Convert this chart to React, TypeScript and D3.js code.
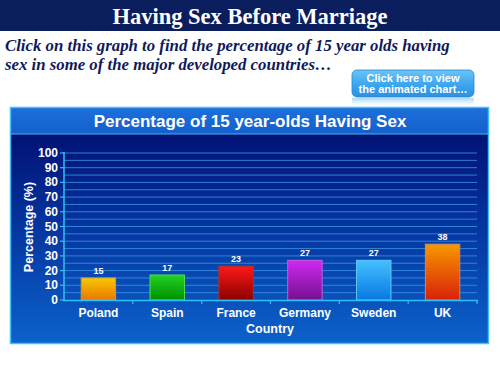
import React from "react";
import * as d3 from "d3";

const countries = ["Poland", "Spain", "France", "Germany", "Sweden", "UK"];
const values = [15, 17, 23, 27, 27, 38];
const barTop = ["#f8c800", "#22d022", "#ff1818", "#d028f0", "#44c0ff", "#f89800"];
const barBottom = ["#e87800", "#009000", "#8a0000", "#741090", "#0878e0", "#d82008"];
const barStroke = ["#c0a040", "#50e050", "#b03030", "#c060e0", "#60c8ff", "#c09060"];
const yTicks = [0, 10, 20, 30, 40, 50, 60, 70, 80, 90, 100];
const gridValues = d3.range(5, 101, 5);

export default function App() {
  const x = d3.scaleBand<string>().domain(countries).range([64, 477]).paddingInner(0.5).paddingOuter(0.25);
  const y = d3.scaleLinear().domain([0, 100]).range([300, 153]);
  const bandStep = x.step();
  const boundaries = countries.map((_, i) => 64 + bandStep * (i + 1));

  return (
    <div style={{ position: "absolute", left: 0, top: 0, width: 500, height: 375, background: "#fff" }}>
      <svg width={500} height={375} style={{ display: "block" }}>
        <defs>
          <linearGradient id="panelBg" x1="0" y1="0" x2="0" y2="1">
            <stop offset="0" stopColor="#000868" />
            <stop offset="0.45" stopColor="#04309a" />
            <stop offset="1" stopColor="#0c62cc" />
          </linearGradient>
          <linearGradient id="titleBg" x1="0" y1="0" x2="0" y2="1">
            <stop offset="0" stopColor="#1c70dc" />
            <stop offset="1" stopColor="#1460cc" />
          </linearGradient>
          <linearGradient id="btnBg" x1="0" y1="0" x2="0" y2="1">
            <stop offset="0" stopColor="#6cc4f8" />
            <stop offset="0.5" stopColor="#3ea8f0" />
            <stop offset="1" stopColor="#2c90e0" />
          </linearGradient>
          <linearGradient id="reflBg" x1="0" y1="0" x2="0" y2="1">
            <stop offset="0" stopColor="#8ccaf4" stopOpacity="0.75" />
            <stop offset="1" stopColor="#ffffff" stopOpacity="0" />
          </linearGradient>
          <clipPath id="reflClip">
            <rect x={352} y={98} width={122} height={9} />
          </clipPath>
          {countries.map((c, i) => (
            <linearGradient key={c} id={`bar${i}`} x1="0" y1="0" x2="0" y2="1">
              <stop offset="0" stopColor={barTop[i]} />
              <stop offset="1" stopColor={barBottom[i]} />
            </linearGradient>
          ))}
        </defs>

        {/* Header banner */}
        <rect x={0} y={0} width={500} height={31} fill="#0a1e5e" />
        <text x={250} y={24} textAnchor="middle" fill="#ffffff" fontFamily="Liberation Serif, serif" fontWeight="bold" fontSize={22.5}>
          Having Sex Before Marriage
        </text>

        {/* Subtitle */}
        <text x={5} y={51} fill="#101a5a" fontFamily="Liberation Serif, serif" fontWeight="bold" fontStyle="italic" fontSize={16.8}>
          Click on this graph to find the percentage of 15 year olds having
        </text>
        <text x={5} y={70} fill="#101a5a" fontFamily="Liberation Serif, serif" fontWeight="bold" fontStyle="italic" fontSize={16.8}>
          sex in some of the major developed countries…
        </text>

        {/* Button with reflection */}
        <rect x={352} y={98} width={122} height={10} fill="url(#reflBg)" />
        <g clipPath="url(#reflClip)" opacity={0.75}>
          <text
            x={413}
            y={93}
            textAnchor="middle"
            fill="#ffffff"
            fontFamily="Liberation Sans, Arial, sans-serif"
            fontWeight="bold"
            fontSize={11}
            transform="translate(0,196) scale(1,-1)"
          >
            the animated chart…
          </text>
        </g>
        <rect x={352} y={70} width={122} height={27} rx={5} fill="url(#btnBg)" stroke="#2a86d0" strokeWidth={0.8} />
        <text x={413} y={81.5} textAnchor="middle" fill="#ffffff" fontFamily="Liberation Sans, Arial, sans-serif" fontWeight="bold" fontSize={11}>
          Click here to view
        </text>
        <text x={413} y={93} textAnchor="middle" fill="#ffffff" fontFamily="Liberation Sans, Arial, sans-serif" fontWeight="bold" fontSize={11}>
          the animated chart…
        </text>

        {/* Panel */}
        <rect x={10} y={107} width={479} height={237} fill="url(#panelBg)" />
        <rect x={10} y={107} width={479} height={27} fill="url(#titleBg)" />
        <line x1={10} x2={489} y1={134} y2={134} stroke="#40b8f0" strokeWidth={1} />
        <rect x={10.5} y={107.5} width={478} height={236} fill="none" stroke="#40c0f8" strokeWidth={1.5} />
        <text x={250} y={127} textAnchor="middle" fill="#ffffff" fontFamily="Liberation Sans, Arial, sans-serif" fontWeight="bold" fontSize={17}>
          Percentage of 15 year-olds Having Sex
        </text>

        {/* Grid */}
        {gridValues.map((v) => (
          <line key={v} x1={64} x2={477} y1={y(v)} y2={y(v)} stroke="#3a90e4" strokeWidth={1} opacity={0.85} />
        ))}

        {/* Bars */}
        {countries.map((c, i) => (
          <g key={c}>
            <rect
              x={x(c)!}
              y={y(values[i])}
              width={x.bandwidth()}
              height={y(0) - y(values[i])}
              fill={`url(#bar${i})`}
              stroke={barStroke[i]}
              strokeWidth={1}
            />
            <text
              x={x(c)! + x.bandwidth() / 2}
              y={y(values[i]) - 4}
              textAnchor="middle"
              fill="#ffffff"
              fontFamily="Liberation Sans, Arial, sans-serif"
              fontWeight="bold"
              fontSize={9}
            >
              {values[i]}
            </text>
          </g>
        ))}

        {/* Axes */}
        <line x1={64} x2={64} y1={152} y2={301} stroke="#30c0f8" strokeWidth={1.5} />
        <line x1={63} x2={478} y1={300.5} y2={300.5} stroke="#30c0f8" strokeWidth={1.5} />
        {yTicks.map((t) => (
          <g key={t}>
            <line x1={60} x2={64} y1={y(t)} y2={y(t)} stroke="#30c0f8" strokeWidth={1.2} />
            <text x={58} y={y(t) + 4} textAnchor="end" fill="#ffffff" fontFamily="Liberation Sans, Arial, sans-serif" fontWeight="bold" fontSize={12}>
              {t}
            </text>
          </g>
        ))}
        {boundaries.map((b, i) => (
          <line key={i} x1={b} x2={b} y1={300} y2={304} stroke="#30c0f8" strokeWidth={1.2} />
        ))}
        {countries.map((c) => (
          <text key={c} x={x(c)! + x.bandwidth() / 2} y={317} textAnchor="middle" fill="#ffffff" fontFamily="Liberation Sans, Arial, sans-serif" fontWeight="bold" fontSize={12}>
            {c}
          </text>
        ))}
        <text x={270} y={333} textAnchor="middle" fill="#ffffff" fontFamily="Liberation Sans, Arial, sans-serif" fontWeight="bold" fontSize={12.5}>
          Country
        </text>
        <text
          transform="translate(33,227) rotate(-90)"
          textAnchor="middle"
          fill="#ffffff"
          fontFamily="Liberation Sans, Arial, sans-serif"
          fontWeight="bold"
          fontSize={12.5}
        >
          Percentage (%)
        </text>
      </svg>
    </div>
  );
}
